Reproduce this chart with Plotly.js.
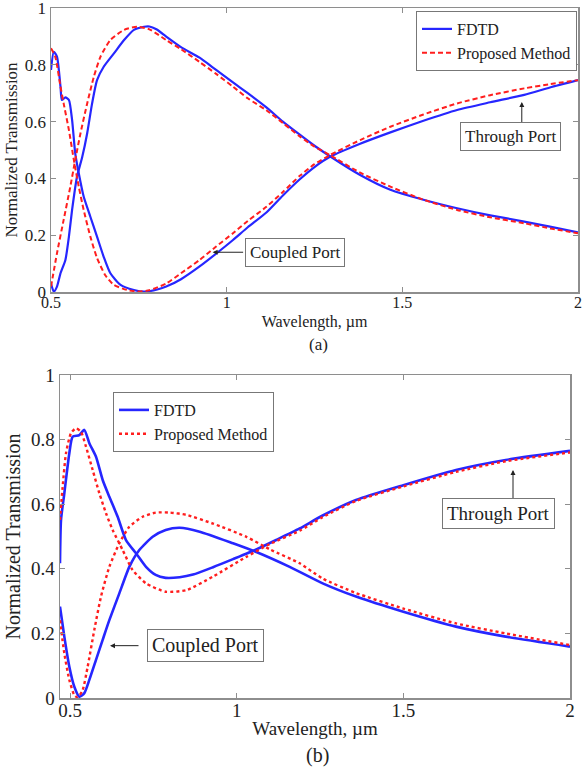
<!DOCTYPE html>
<html>
<head>
<meta charset="utf-8">
<script src="https://cdn.plot.ly/plotly-3.0.1.min.js"></script>
<style>html,body{margin:0;padding:0;background:#fff;}#chart{width:584px;height:774px;}</style>
</head>
<body>
<div id="chart"></div>
<script>
// ---------- Panel (a) data ----------
const aFdtdRiseX = [0.5,0.508,0.517,0.527,0.541,0.551,0.56,0.574,0.589,0.603,0.617,0.631,0.65,0.679,0.708,0.736,0.765,0.78,0.80,0.828,0.87,0.923,0.97,1.018,1.06,1.113,1.16,1.209,1.25,1.294,1.38,1.466,1.56,1.656,1.75,1.847,1.92,2.0];
const aFdtdRiseY = [0.03,0.001,0.019,0.066,0.113,0.195,0.289,0.406,0.476,0.559,0.664,0.746,0.793,0.84,0.887,0.923,0.934,0.935,0.925,0.899,0.862,0.825,0.782,0.738,0.70,0.65,0.60,0.553,0.515,0.478,0.412,0.36,0.325,0.295,0.27,0.248,0.23,0.21];

const aFdtdFallX = [0.5,0.508,0.517,0.527,0.531,0.541,0.551,0.56,0.569,0.579,0.593,0.612,0.631,0.65,0.669,0.698,0.736,0.765,0.80,0.828,0.87,0.923,0.97,1.018,1.06,1.113,1.16,1.209,1.25,1.294,1.38,1.466,1.56,1.656,1.75,1.847,1.92,2.0];
const aFdtdFallY = [0.782,0.846,0.829,0.723,0.676,0.685,0.676,0.606,0.488,0.418,0.336,0.265,0.195,0.124,0.066,0.025,0.007,0.001,0.008,0.019,0.045,0.09,0.135,0.183,0.228,0.28,0.34,0.398,0.44,0.476,0.522,0.562,0.603,0.641,0.668,0.694,0.72,0.746];

const aPropFallX = [0.5,0.512,0.527,0.536,0.551,0.565,0.579,0.593,0.612,0.631,0.655,0.679,0.717,0.746,0.78,0.828,0.87,0.923,0.97,1.018,1.06,1.113,1.16,1.209,1.25,1.294,1.38,1.466,1.56,1.656,1.75,1.847,1.92,2.0];
const aPropFallY = [0.858,0.829,0.723,0.664,0.57,0.465,0.371,0.289,0.195,0.12,0.058,0.025,0.007,0.002,0.006,0.03,0.066,0.113,0.16,0.207,0.25,0.30,0.352,0.41,0.45,0.482,0.535,0.582,0.625,0.664,0.693,0.717,0.732,0.746];

const aPropRiseX = [0.5,0.517,0.536,0.555,0.569,0.584,0.603,0.622,0.641,0.669,0.708,0.746,0.78,0.828,0.87,0.923,0.97,1.018,1.06,1.113,1.16,1.209,1.25,1.294,1.38,1.466,1.56,1.656,1.75,1.847,1.92,2.0];
const aPropRiseY = [0.019,0.136,0.254,0.371,0.465,0.559,0.664,0.758,0.829,0.887,0.923,0.934,0.925,0.887,0.855,0.81,0.768,0.723,0.682,0.64,0.595,0.547,0.512,0.482,0.42,0.371,0.325,0.289,0.263,0.242,0.224,0.207];

// ---------- Panel (b) data ----------
const bFdtdPeakX = [0.47,0.473,0.483,0.498,0.508,0.528,0.543,0.558,0.578,0.598,0.618,0.643,0.668,0.698,0.728,0.757,0.787,0.829,0.869,0.929,0.989,1.059,1.12,1.189,1.258,1.358,1.5,1.658,1.807,2.0];
const bFdtdPeakY = [0.417,0.551,0.634,0.758,0.809,0.814,0.83,0.789,0.747,0.675,0.623,0.561,0.489,0.448,0.406,0.381,0.372,0.374,0.382,0.405,0.43,0.46,0.49,0.525,0.565,0.613,0.659,0.706,0.737,0.765];

const bFdtdDipX = [0.47,0.483,0.498,0.513,0.528,0.543,0.558,0.578,0.598,0.618,0.648,0.678,0.708,0.748,0.787,0.829,0.889,0.989,1.059,1.159,1.258,1.358,1.5,1.658,1.807,2.0];
const bFdtdDipY = [0.283,0.19,0.097,0.035,0.004,0.015,0.056,0.118,0.18,0.241,0.324,0.406,0.458,0.499,0.52,0.527,0.515,0.479,0.452,0.406,0.355,0.314,0.267,0.221,0.19,0.159];

const bPropPeakX = [0.47,0.478,0.488,0.503,0.518,0.533,0.548,0.568,0.588,0.608,0.628,0.658,0.688,0.728,0.787,0.849,0.929,1.029,1.1,1.189,1.258,1.358,1.5,1.658,1.807,2.0];
const bPropPeakY = [0.551,0.654,0.758,0.82,0.835,0.824,0.778,0.706,0.634,0.572,0.52,0.458,0.396,0.355,0.329,0.334,0.376,0.437,0.477,0.518,0.56,0.61,0.655,0.70,0.733,0.76];

const bPropDipX = [0.47,0.483,0.498,0.513,0.523,0.538,0.553,0.573,0.593,0.618,0.648,0.678,0.718,0.757,0.80,0.849,0.929,1.029,1.1,1.189,1.258,1.358,1.5,1.658,1.807,2.0];
const bPropDipY = [0.241,0.138,0.056,0.009,0.002,0.025,0.097,0.211,0.314,0.406,0.479,0.53,0.561,0.574,0.574,0.567,0.54,0.499,0.46,0.417,0.37,0.325,0.277,0.231,0.20,0.164];

const xTickVals = [0.5, 1, 1.5, 2];
const xTickText = ['0.5', '1', '1.5', '2'];
const yTickVals = [0, 0.2, 0.4, 0.6, 0.8, 1];
const yTickText = ['0', '0.2', '0.4', '0.6', '0.8', '1'];
const seriesNames = ['FDTD', 'Proposed Method'];

// ---------- styles ----------
const FONT = 'Liberation Serif, Times New Roman, serif';
const BLUE = '#2626ff';
const RED = '#ff1e1e';
const AXC = '#8e8e8e';

function tr(x, y, xa, ya, color, dash, width, name, showlegend, legend) {
  return {x: x, y: y, xaxis: xa, yaxis: ya, type: 'scatter', mode: 'lines',
    line: {color: color, dash: dash, width: width, shape: 'spline', smoothing: 0.6},
    name: name, showlegend: showlegend, legend: legend, hoverinfo: 'skip'};
}

const data = [
  tr(aFdtdRiseX, aFdtdRiseY, 'x', 'y', BLUE, 'solid', 2.2, seriesNames[0], true, 'legend'),
  tr(aFdtdFallX, aFdtdFallY, 'x', 'y', BLUE, 'solid', 2.2, seriesNames[0], false, 'legend'),
  tr(aPropRiseX, aPropRiseY, 'x', 'y', RED, '5px,3px', 2, seriesNames[1], true, 'legend'),
  tr(aPropFallX, aPropFallY, 'x', 'y', RED, '5px,3px', 2, seriesNames[1], false, 'legend'),
  tr(bFdtdPeakX, bFdtdPeakY, 'x2', 'y2', BLUE, 'solid', 2.6, seriesNames[0], true, 'legend2'),
  tr(bFdtdDipX, bFdtdDipY, 'x2', 'y2', BLUE, 'solid', 2.6, seriesNames[0], false, 'legend2'),
  tr(bPropPeakX, bPropPeakY, 'x2', 'y2', RED, 'dot', 2.4, seriesNames[1], true, 'legend2'),
  tr(bPropDipX, bPropDipY, 'x2', 'y2', RED, 'dot', 2.4, seriesNames[1], false, 'legend2')
];

function xax(domain, range, anchor, fs, standoff) {
  return {domain: domain, range: range, anchor: anchor, tickvals: xTickVals, ticktext: xTickText,
    ticks: 'inside', ticklen: 5, tickcolor: AXC, showline: true, mirror: 'ticks', linecolor: AXC, linewidth: 1.5,
    showgrid: false, zeroline: false, tickfont: {family: FONT, size: fs, color: '#222'},
    ticklabeloverflow: 'allow', ticklabelstandoff: -5,
    title: {text: 'Wavelength, µm', font: {family: FONT, size: fs, color: '#222'}, standoff: standoff}, automargin: false};
}
function yax(domain, anchor, fs, tfs, standoff) {
  return {domain: domain, range: [0, 1], anchor: anchor, tickvals: yTickVals, ticktext: yTickText,
    ticks: 'inside', ticklen: 5, tickcolor: AXC, showline: true, mirror: 'ticks', linecolor: AXC, linewidth: 1.5,
    showgrid: false, zeroline: false, tickfont: {family: FONT, size: fs, color: '#222'},
    ticklabeloverflow: 'allow',
    title: {text: 'Normalized Transmission', font: {family: FONT, size: tfs, color: '#222'}, standoff: standoff}, automargin: false};
}

function box(text, x, y, xr, yr, fs) {
  return {text: text, x: x, y: y, xref: xr, yref: yr, showarrow: false,
    font: {family: FONT, size: fs, color: '#222'}, bordercolor: '#777', borderwidth: 1, borderpad: 4, bgcolor: '#fff'};
}
function arrow(x, y, xr, yr, ax, ay) {
  return {text: '', x: x, y: y, xref: xr, yref: yr, showarrow: true, ax: ax, ay: ay,
    arrowhead: 2, arrowsize: 1, arrowwidth: 1, arrowcolor: '#222'};
}

const layout = {
  width: 584, height: 774, margin: {l: 0, r: 0, t: 0, b: 0},
  paper_bgcolor: '#fff', plot_bgcolor: '#fff',
  font: {family: FONT, color: '#222'},
  xaxis: xax([51/584, 578/584], [0.5, 2], 'y', 16, 6),
  yaxis: yax([1 - 292/774, 1 - 8/774], 'x', 17, 17, 3),
  xaxis2: xax([60/584, 570/584], [0.47, 2], 'y2', 19, 1),
  yaxis2: yax([1 - 698/774, 1 - 375/774], 'x2', 19, 20, 5),
  legend: {x: 577/584, y: 1 - 11/774, xanchor: 'right', yanchor: 'top', bgcolor: '#fff',
    bordercolor: '#777', borderwidth: 1, font: {family: FONT, size: 16, color: '#222'},
    itemwidth: 30, tracegroupgap: 0},
  legend2: {x: 113/584, y: 1 - 392/774, xanchor: 'left', yanchor: 'top', bgcolor: '#fff',
    bordercolor: '#777', borderwidth: 1, font: {family: FONT, size: 16, color: '#222'},
    itemwidth: 30, tracegroupgap: 0},
  annotations: [
    arrow(0.96, 0.14, 'x', 'y', 32, 0),
    box('Coupled Port', 1.194, 0.14, 'x', 'y', 17),
    arrow(1.84, 0.669, 'x', 'y', 0, 23),
    box('Through Port', 1.807, 0.549, 'x', 'y', 17),
    arrow(0.62, 0.162, 'x2', 'y2', 30, 0),
    box('Coupled Port', 0.906, 0.162, 'x2', 'y2', 20),
    arrow(1.829, 0.706, 'x2', 'y2', 0, 30),
    box('Through Port', 1.786, 0.571, 'x2', 'y2', 19),
    {text: '(a)', x: 318/584, y: 1 - 344/774, xref: 'paper', yref: 'paper', xanchor: 'center', yanchor: 'middle',
      showarrow: false, font: {family: FONT, size: 17, color: '#222'}},
    {text: '(b)', x: 317/584, y: 1 - 755/774, xref: 'paper', yref: 'paper', xanchor: 'center', yanchor: 'middle',
      showarrow: false, font: {family: FONT, size: 20, color: '#222'}}
  ]
};

Plotly.newPlot('chart', data, layout, {displayModeBar: false, staticPlot: true});
</script>
</body>
</html>
